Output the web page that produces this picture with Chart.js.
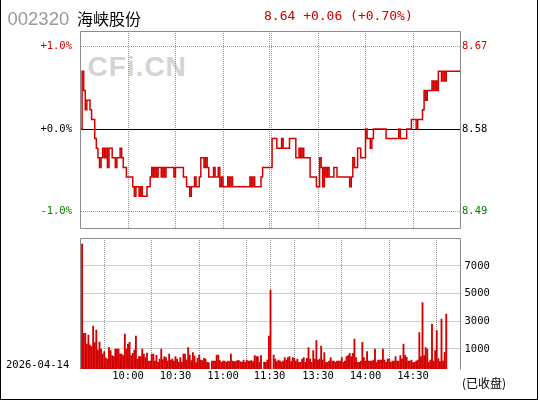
<!DOCTYPE html>
<html>
<head>
<meta charset="utf-8">
<script src="https://cdn.jsdelivr.net/npm/chart.js@4.4.1/dist/chart.umd.min.js"></script>
<style>
  html, body { margin: 0; padding: 0; background: #fff; }
  #quadro { position: relative; width: 540px; height: 400px; overflow: hidden; }
  #quadro canvas { position: absolute; left: 0; top: 0; }
  .texto { position: absolute; white-space: nowrap; line-height: 1; }
  #moldura { position: absolute; left: 0; top: 0; width: 536px; height: 399px;
    border-left: 1px solid #000; border-right: 1px solid #000; border-bottom: 1px solid #000; }
  #marca { left: 87.5px; top: 51.3px; font: bold 28px "Liberation Sans", Arial, sans-serif; color: #d4d4d4; letter-spacing: 1px; }
  #codigo { left: 7.5px; top: 7.6px; font: 18.5px "Liberation Sans", Arial, sans-serif; color: #999; }
  #nome { left: 77px; top: 5.5px; font: 16px "Noto Sans CJK SC", sans-serif; color: #000; }
  #cotacao { left: 264px; top: 8.3px; font: 13px "DejaVu Sans Mono", monospace; color: #cc0000; white-space: pre; }
  #data { left: 6px; top: 358.4px; font: 10.5px "DejaVu Sans Mono", monospace; color: #000; }
  #estado { left: 462px; top: 373.8px; font: 12px "Noto Sans CJK SC", sans-serif; color: #000; }
</style>
</head>
<body>
<div id="quadro">
  <div id="moldura"></div>
  <div class="texto" id="marca">CFi.CN</div>
  <canvas id="graficoPreco" width="540" height="400"></canvas>
  <canvas id="graficoVolume" width="540" height="400"></canvas>
  <div class="texto" id="codigo"></div>
  <div class="texto" id="nome"></div>
  <div class="texto" id="cotacao"></div>
  <div class="texto" id="data"></div>
  <div class="texto" id="estado"></div>
</div>
<script>
// dados do dia (um ponto por minuto, 9:30-11:30 e 13:01-15:00)
const codigo = '002320'
const nome = '海峡股份'
const dataPregao = '2026-04-14'
const estado = '(已收盘)'
const fechamentoAnterior = 8.58
const ultimoPreco = 8.64

const horasTicks = [30, 60, 90, 120, 150, 180, 210]
const horasLabels = ['10:00', '10:30', '11:00', '11:30', '13:30', '14:00', '14:30']
const percentTicks = [-1, 0, 1]
const volumeTicks = [1000, 3000, 5000, 7000]

const precoManha = [
  8.58, 8.64, 8.62, 8.60, 8.61, 8.61, 8.60, 8.59, 8.59, 8.57,
  8.56, 8.55, 8.54, 8.55, 8.56, 8.55, 8.56, 8.54, 8.56, 8.56,
  8.55, 8.55, 8.54, 8.55, 8.55, 8.56, 8.55, 8.54, 8.54, 8.53,
  8.53, 8.53, 8.53, 8.52, 8.51, 8.52, 8.52, 8.51, 8.52, 8.51,
  8.51, 8.51, 8.52, 8.52, 8.53, 8.54, 8.53, 8.54, 8.53, 8.54,
  8.54, 8.53, 8.54, 8.53, 8.54, 8.54, 8.54, 8.54, 8.54, 8.53,
  8.54, 8.54, 8.54, 8.54, 8.54, 8.53, 8.53, 8.52, 8.52, 8.51,
  8.52, 8.52, 8.53, 8.52, 8.52, 8.53, 8.55, 8.55, 8.54, 8.55,
  8.54, 8.53, 8.53, 8.53, 8.54, 8.53, 8.53, 8.54, 8.52, 8.53,
  8.52, 8.52, 8.52, 8.53, 8.52, 8.53, 8.52, 8.52, 8.52, 8.52,
  8.52, 8.52, 8.52, 8.52, 8.52, 8.52, 8.52, 8.53, 8.52, 8.53,
  8.52, 8.52, 8.52, 8.52, 8.53, 8.54, 8.54, 8.54, 8.54, 8.54,
  8.54
]
const precoTarde = [
  8.57, 8.57, 8.57, 8.56, 8.56, 8.56, 8.57, 8.56, 8.56,
  8.56, 8.56, 8.57, 8.57, 8.57, 8.57, 8.55, 8.55, 8.56, 8.55,
  8.56, 8.55, 8.55, 8.55, 8.55, 8.53, 8.53, 8.53, 8.53, 8.52,
  8.52, 8.55, 8.54, 8.52, 8.54, 8.53, 8.54, 8.53, 8.53, 8.53,
  8.54, 8.54, 8.53, 8.53, 8.53, 8.53, 8.53, 8.53, 8.53, 8.53,
  8.52, 8.53, 8.55, 8.54, 8.54, 8.56, 8.56, 8.55, 8.55, 8.55,
  8.58, 8.57, 8.57, 8.56, 8.57, 8.58, 8.58, 8.58, 8.58, 8.58,
  8.58, 8.58, 8.58, 8.57, 8.57, 8.57, 8.57, 8.57, 8.57, 8.57,
  8.57, 8.58, 8.57, 8.57, 8.57, 8.57, 8.58, 8.58, 8.58, 8.59,
  8.59, 8.59, 8.58, 8.59, 8.59, 8.59, 8.60, 8.62, 8.61, 8.62,
  8.62, 8.62, 8.63, 8.62, 8.63, 8.62, 8.64, 8.64, 8.63, 8.64,
  8.63, 8.64, 8.64, 8.64, 8.64, 8.64, 8.64, 8.64, 8.64, 8.64,
  8.64
]
const volumeManha = [
  1528, 8592, 2135, 2135, 1361, 2012, 1289, 1166, 2663, 1455,
  2374, 928, 1506, 1000, 638, 805, 349, 277, 1096, 879,
  517, 445, 1000, 1000, 1000, 638, 638, 517, 2084, 1000,
  1361, 1482, 517, 686, 928, 1940, 277, 445, 445, 1000,
  638, 373, 710, 132, 132, 638, 638, 132, 541, 38,
  277, 1000, 229, 445, 373, 132, 638, 205, 277, 132,
  445, 277, 60, 373, 60, 638, 638, 205, 1096, 565,
  155, 734, 493, 10, 325, 565, 205, 155, 325, 277,
  38, 10, null, 132, 132, 132, 565, 565, 155, 38,
  132, 132, 38, 132, 85, 638, 132, 85, 85, 155,
  155, 85, 38, 205, 38, 205, 132, 132, 155, 85,
  517, 445, 445, 38, 517, null, 60, 38, 205, 1940,
  5266
]
const volumeTarde = [
  null, 565, 277, 85, 205, 132, 38, 132, 373,
  205, 373, 445, 85, 373, 325, 132, 277, 38, 38,
  277, 373, 38, 325, 1096, 277, 38, 880, 277, 1600,
  205, 277, 1218, 205, 734, 38, 38, 132, 373, 132,
  132, 38, 132, 132, 132, 373, 38, 132, 445, 517,
  686, 445, 686, 1723, 373, 38, 38, 132, 1482, 373,
  132, 805, 132, 132, 132, 205, 1000, 38, 205, 205,
  205, 1000, 205, 38, 277, 277, 38, 132, 132, 445,
  132, 132, 517, 277, 1361, 565, 397, 132, 132, 205,
  10, 38, 132, 205, 2180, 445, 4348, 517, 1096, 1000,
  38, 205, 2808, 132, 879, 2326, 301, 85, 3169, 132,
  758, 3531, null, null, null, null, null, null, null, null,
  null
]

const vermelho = '#d40000'
const verde = '#008000'
const cinzaGrade = '#9a9a9a'
const fonteEixo = { family: 'DejaVu Sans Mono', size: 10.5 }

// textos do cabeçalho
const variacao = ultimoPreco - fechamentoAnterior
const variacaoPct = variacao / fechamentoAnterior * 100
document.getElementById('codigo').textContent = codigo
document.getElementById('nome').textContent = nome
document.getElementById('cotacao').textContent =
  ultimoPreco.toFixed(2) + ' +' + variacao.toFixed(2) + ' (+' + variacaoPct.toFixed(2) + '%)'
document.getElementById('data').textContent = dataPregao
document.getElementById('estado').textContent = estado

const precos = precoManha.concat(precoTarde)
const volumes = volumeManha.concat(volumeTarde)
const pontosPreco = precos.map((p, i) => ({ x: i, y: p }))
const pontosVolume = volumes.map((v, i) => ({ x: i, y: v }))

// faixa do eixo de preço em torno do fechamento anterior
const precoMax = fechamentoAnterior * (1 + 0.01188)
const precoMin = fechamentoAnterior * (1 - 0.0120)
const volumeMin = -446
const volumeMax = 9024

function ticksHorario(escala) {
    const lista = []
    horasTicks.forEach((t, i) => {
        if (t === 120) {
            lista.push({ value: t - 0.6, rotulo: horasLabels[i] })
            lista.push({ value: t + 0.6, rotulo: '' })
        } else {
            lista.push({ value: t, rotulo: horasLabels[i] })
        }
    })
    escala.ticks = lista
}

function corPercentual(valor) {
    if (valor > fechamentoAnterior + 0.001) return vermelho
    if (valor < fechamentoAnterior - 0.001) return verde
    return '#000'
}

const moldura = {
    id: 'moldura',
    beforeDatasetsDraw(grafico, args, opts) {
        if (!opts.linhaZero) return
        const ctx = grafico.ctx
        const area = grafico.chartArea
        const y = Math.floor(grafico.scales.yl.getPixelForValue(fechamentoAnterior)) + 0.5
        ctx.save()
        ctx.strokeStyle = '#000'
        ctx.lineWidth = 1
        ctx.beginPath()
        ctx.moveTo(area.left, y)
        ctx.lineTo(area.right, y)
        ctx.stroke()
        ctx.restore()
    },
    afterDraw(grafico, args, opts) {
        const ctx = grafico.ctx
        const a = grafico.chartArea
        const l = Math.floor(a.left) + 0.5
        const r = Math.floor(a.right) + 0.5
        const t = Math.floor(a.top) + 0.5
        const b = Math.floor(a.bottom) + 0.5
        ctx.save()
        ctx.strokeStyle = '#8c8c8c'
        ctx.lineWidth = 1
        ctx.beginPath()
        if (opts.fechado) {
            ctx.rect(l, t, r - l, b - t)
        } else {
            ctx.moveTo(l, b)
            ctx.lineTo(l, t)
            ctx.lineTo(r, t)
            ctx.lineTo(r, b)
        }
        ctx.stroke()
        ctx.restore()
    }
}

const gradeTracejada = { color: cinzaGrade, drawTicks: false, borderDash: [1, 1] }
const bordaTracejada = { display: false, dash: [1, 1] }

const graficoPreco = new Chart(document.getElementById('graficoPreco'), {
    type: 'line',
    data: {
        datasets: [{
            data: pontosPreco,
            yAxisID: 'yl',
            borderColor: vermelho,
            borderWidth: 1.5,
            pointRadius: 0,
            stepped: true
        }]
    },
    options: {
        responsive: false,
        animation: false,
        events: [],
        layout: { padding: { top: 31, bottom: 172, left: 0, right: 0 } },
        plugins: {
            legend: { display: false },
            tooltip: { enabled: false },
            moldura: { fechado: true, linhaZero: true }
        },
        scales: {
            x: {
                type: 'linear', min: 0, max: 240,
                afterBuildTicks: ticksHorario,
                ticks: { display: false },
                grid: gradeTracejada,
                border: bordaTracejada,
                afterFit: s => { s.height = 0 }
            },
            yl: {
                position: 'left', min: precoMin, max: precoMax,
                afterBuildTicks: s => {
                    s.ticks = percentTicks.map(p => ({ value: fechamentoAnterior * (1 + p / 100), pct: p }))
                },
                ticks: {
                    font: fonteEixo,
                    padding: 8.5,
                    color: ctx => corPercentual(ctx.tick.value),
                    callback: (v, i, ticks) => {
                        const p = ticks[i].pct
                        return (p < 0 ? '-' : '+') + Math.abs(p).toFixed(1) + '%'
                    }
                },
                grid: {
                    color: ctx => (ctx.tick && Math.abs(ctx.tick.value - fechamentoAnterior) < 0.001) ? 'rgba(0,0,0,0)' : cinzaGrade,
                    drawTicks: false, borderDash: [1, 1]
                },
                border: bordaTracejada,
                afterFit: s => { s.width = 80.5 }
            },
            yr: {
                position: 'right', min: precoMin, max: precoMax,
                afterBuildTicks: s => {
                    s.ticks = percentTicks.map(p => ({ value: fechamentoAnterior * (1 + p / 100) }))
                },
                ticks: {
                    font: fonteEixo,
                    padding: 1.5,
                    color: ctx => corPercentual(ctx.tick.value),
                    callback: v => v.toFixed(2)
                },
                grid: { drawOnChartArea: false, drawTicks: false },
                border: { display: false },
                afterFit: s => { s.width = 79.5 }
            }
        }
    },
    plugins: [moldura]
})

const graficoVolume = new Chart(document.getElementById('graficoVolume'), {
    type: 'bar',
    data: {
        datasets: [{
            data: pontosVolume,
            backgroundColor: vermelho,
            barThickness: 1.2,
            base: volumeMin
        }]
    },
    options: {
        responsive: false,
        animation: false,
        events: [],
        layout: { padding: { top: 238, bottom: 0, left: 80.5, right: 0 } },
        plugins: {
            legend: { display: false },
            tooltip: { enabled: false },
            moldura: { fechado: false, linhaZero: false }
        },
        scales: {
            x: {
                type: 'linear', min: 0, max: 240, offset: false,
                afterBuildTicks: ticksHorario,
                ticks: {
                    font: fonteEixo,
                    color: '#000',
                    padding: 1,
                    autoSkip: false,
                    maxRotation: 0,
                    callback: (v, i, ticks) => ticks[i].rotulo
                },
                grid: gradeTracejada,
                border: bordaTracejada,
                afterFit: s => { s.height = 31 }
            },
            y: {
                position: 'right', min: volumeMin, max: volumeMax,
                afterBuildTicks: s => { s.ticks = volumeTicks.map(v => ({ value: v })) },
                ticks: {
                    font: fonteEixo,
                    color: '#000',
                    padding: 4,
                    callback: v => String(v)
                },
                grid: gradeTracejada,
                border: bordaTracejada,
                afterFit: s => { s.width = 79.5 }
            }
        }
    },
    plugins: [moldura]
})
</script>
</body>
</html>
